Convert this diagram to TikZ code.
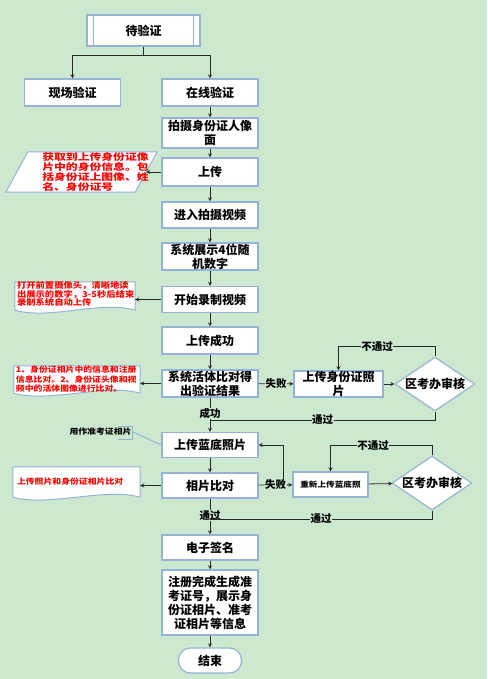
\documentclass[tikz,border=0pt]{standalone}
\usepackage{fontspec}
\setmainfont{Noto Sans CJK SC}
\newfontfamily\smallcjk[FakeStretch=1.15]{Noto Sans CJK SC}
\newfontfamily\widecjk[FakeStretch=1.3]{Noto Sans CJK SC}
\usetikzlibrary{shapes.geometric}
\definecolor{bggreen}{RGB}{204,232,207}
\definecolor{boxblue}{RGB}{149,179,215}
\definecolor{linegray}{RGB}{40,40,40}
\pgfdeclarelayer{back}
\pgfdeclarelayer{shapes}
\pgfsetlayers{back,shapes,main}

\begin{document}
\begin{tikzpicture}[x=1pt, y=-1pt, >=stealth,
    box/.style={draw=boxblue, fill=white, line width=1.2pt, minimum width=96, minimum height=27,
      inner sep=0pt, align=center, font=\bfseries\fontsize{12}{14}\selectfont},
    flow/.style={->, draw=linegray, line width=0.8pt},
    link/.style={draw=linegray, line width=0.8pt},
    tag/.style={fill=bggreen, inner sep=0.5pt, font=\bfseries\fontsize{10.5}{11}\selectfont},
    note/.style={inner sep=2pt, align=left, text=red, font=\smallcjk\bfseries\fontsize{7.7}{9.5}\selectfont},
    docbox/.style={minimum width=#1, inner sep=0pt},
    outline/.style={draw=boxblue, fill=white, line width=1pt},
    judge/.style={diamond, draw=boxblue, fill=white, line width=1.2pt, minimum width=80, minimum height=54,
      inner sep=0pt, label={[font=\bfseries\fontsize{12}{14}\selectfont]center:#1}}]

  \begin{pgfonlayer}{back}
    \fill[bggreen] (0,0) rectangle (487,679);
  \end{pgfonlayer}
  \useasboundingbox (0,0) rectangle (487,679);

  % start and the two branches
  \node[box, minimum width=113, minimum height=31] (wait) at (143.5,30.5) {待验证};
  \draw[draw=boxblue, line width=1.2pt] ([xshift=7]wait.north west) -- ([xshift=7]wait.south west)
    ([xshift=-7]wait.north east) -- ([xshift=-7]wait.south east);
  \node[box] (site) at (72.5,92.5) {现场验证};

  % main column
  \foreach \n/\y/\h/\t in {online/92.5/27/在线验证, shoot/133/30/拍摄身份证人像\\面, up/172/28/上传,
      video/215/26/进入拍摄视频, digits/256.5/27/系统展示4位随\\机数字, record/299.5/26/开始录制视频,
      upok/340.5/27/上传成功, live/383.5/27/系统活体比对得\\出验证结果, blue/445/25/上传蓝底照片,
      compare/485.5/25/相片比对, sign/547.5/25/电子签名,
      reg/602.5/65/注册完成生成准\\考证号，展示身\\份证相片、准考\\证相片等信息}
    \node[box, minimum height=\h] (\n) at (210,\y) {\t};
  \node[box, minimum width=63, minimum height=25, rounded corners=12pt] (stop) at (210,660.5) {结束};

  % review side
  \node[box, minimum width=89, minimum height=26] (photo) at (338.5,384) {上传身份证照\\片};
  \node[judge=区考办审核] (audit1) at (435,384) {};
  \node[box, minimum width=75, minimum height=25, font=\smallcjk\bfseries\fontsize{7.5}{9}\selectfont] (reup) at (330.5,484.5) {重新上传蓝底照};
  \node[judge=区考办审核] (audit2) at (432,483) {};
  \coordinate (join1) at (210,420);
  \coordinate (join2) at (210,519);

  % notes on the left
  \node[docbox=151, minimum height=40,
    label={[note, xshift=14, font=\widecjk\bfseries\fontsize{9.1}{10}\selectfont]center:获取到上传身份证像\\片中的身份信息。包\\括身份证上图像、姓\\名、身份证号}]
    (note1) at (81.5,172) {};
  \node[docbox=120, minimum height=28,
    label={[note, anchor=north west, inner ysep=0pt, font=\smallcjk\bfseries\fontsize{8.1}{8.5}\selectfont]north west:打开前置摄像头，清晰地读\\出展示的数字，3-5秒后结束\\录制系统自动上传}]
    (note2) at (75,296) {};
  \node[docbox=126, minimum height=27,
    label={[note, anchor=north west, inner ysep=0pt]north west:1、身份证相片中的信息和注册\\信息比对。2、身份证头像和视\\频中的活体图像进行比对。}]
    (note3) at (77,379.5) {};
  \node[docbox=127, minimum height=30,
    label={[note, anchor=west, inner xsep=4pt]west:上传照片和身份证相片比对}]
    (note4) at (76.5,482) {};
  \node[note, text=black, inner sep=1pt] (useas) at (100.5,432) {用作准考证相片};

  \begin{pgfonlayer}{shapes}
    \draw[outline] (note1.south west) -- ([xshift=22]note1.north west) -- (note1.north east)
      -- ([xshift=-22]note1.south east) -- cycle;
    \foreach \n in {note2, note3, note4}
      \draw[outline] (\n.south west) -- (\n.north west) -- (\n.north east) -- (\n.south east)
        .. controls +(-35,-10) and +(35,10) .. (\n.south west) -- cycle;
  \end{pgfonlayer}

  % connectors
  \draw[link] (wait.south) -- ++(0,9) coordinate (split);
  \draw[flow] (split) -| (site);
  \draw[flow] (split) -| (online);
  \foreach \a/\b in {online/shoot, shoot/up, up/video, video/digits, digits/record, record/upok,
      upok/live, blue/compare, sign/reg, reg/stop}
    \draw[flow] (\a) -- (\b);
  \draw[flow] (live) -- node[tag, pos=0.46]{成功} (blue);
  \draw[flow] (compare) -- node[tag, pos=0.47]{通过} (sign);

  \draw[flow] (up.west) -- ([xshift=-11]note1.east);
  \draw[flow] (record.west) -- (record.west -| note2.east);
  \draw[flow] (live.west) -- (live.west -| note3.east);
  \draw[flow] (compare.west) -- (compare.west -| note4.east);

  \draw[flow] (live) -- node[tag]{失败} (photo);
  \draw[flow] (photo) -- (audit1);
  \draw[flow] (audit1.north) -- ++(0,-10) -| node[tag, pos=0.3]{不通过} (photo.north);
  \draw[link] (audit1.south) |- node[tag, pos=0.75]{通过} (join1);

  \draw[flow] (compare) -- node[tag]{失败} (reup);
  \draw[flow] ([xshift=25]compare.east) |- (blue.east);
  \draw[flow] (reup) -- (audit2);
  \draw[flow] (audit2.north) -- ++(0,-10) -| node[tag, pos=0.29]{不通过} (reup.north);
  \draw[link] (audit2.south) |- node[tag, pos=0.75]{通过} (join2);

  % callout
  \draw[draw=boxblue, line width=1pt] ([shift={(-15,-6)}]useas.east) -- ([shift={(0,-6)}]useas.east)
    -- ([shift={(0,7)}]useas.east) -- ([shift={(-15,7)}]useas.east);
  \draw[draw=boxblue, line width=1pt] (useas.east) -- (blue.west);
\end{tikzpicture}
\end{document}
